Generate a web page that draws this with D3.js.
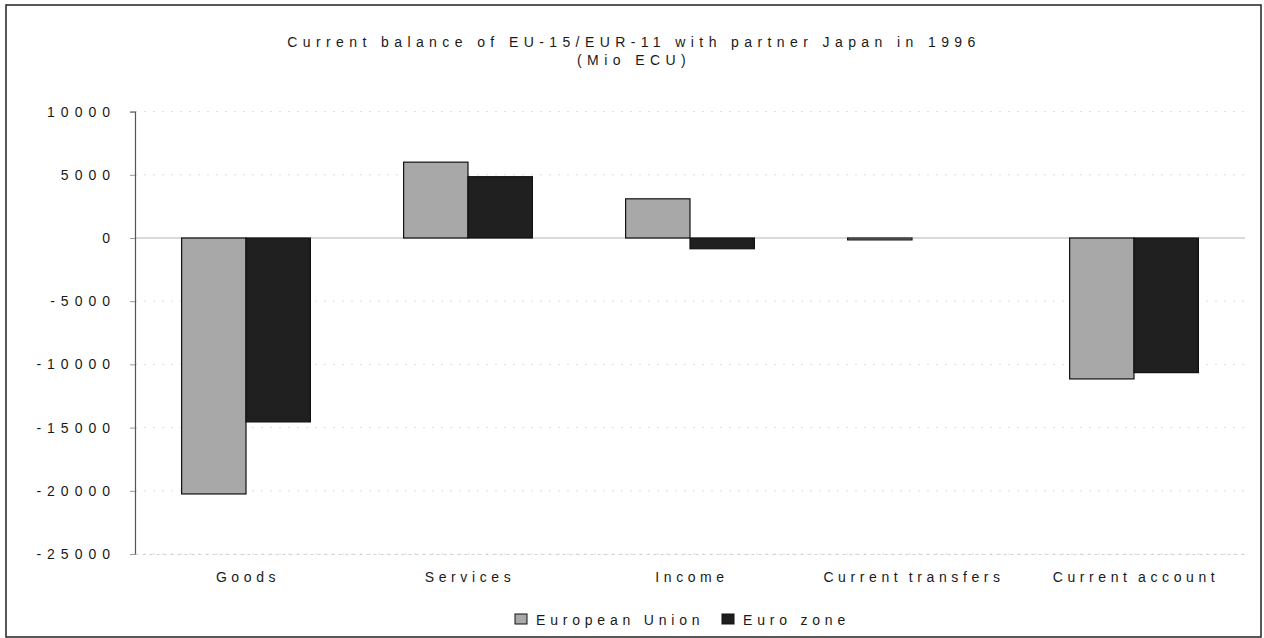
<!DOCTYPE html>
<html>
<head>
<meta charset="utf-8">
<script src="https://cdn.jsdelivr.net/npm/d3@7/dist/d3.min.js"></script>
<style>
  body { margin: 0; background: #ffffff; }
  svg { display: block; font-family: "Liberation Sans", Arial, sans-serif; }
</style>
</head>
<body>
<svg id="chart" width="1264" height="638"></svg>
<script>
// Current balance with Japan, 1996 (Mio ECU)
const categories = ["Goods", "Services", "Income", "Current transfers", "Current account"];
const seriesNames = ["European Union", "Euro zone"];
const euValues = [-20250, 6000, 3100, -150, -11150];
const euroValues = [-14550, 4850, -850, 0, -10650];
const yTicks = [10000, 5000, 0, -5000, -10000, -15000, -20000, -25000];
const titleLines = ["Current balance of EU-15/EUR-11 with partner Japan in 1996", "(Mio ECU)"];

const svg = d3.select("#chart");
const W = 1264, H = 638;
const plot = { left: 135, right: 1245, top: 111.6, bottom: 554 };

// fill patterns: fine dithered greys
const defs = svg.append("defs");
function dither(id, a, b) {
  const p = defs.append("pattern").attr("id", id)
    .attr("patternUnits", "userSpaceOnUse").attr("width", 2).attr("height", 2);
  p.append("rect").attr("width", 2).attr("height", 2).attr("fill", a);
  p.append("rect").attr("width", 1).attr("height", 1).attr("fill", b);
  p.append("rect").attr("x", 1).attr("y", 1).attr("width", 1).attr("height", 1).attr("fill", b);
}
dither("fillEU", "#b0b0b0", "#a0a0a0");
dither("fillEZ", "#191919", "#262626");
const fills = { "European Union": "url(#fillEU)", "Euro zone": "url(#fillEZ)" };
const swatch = { "European Union": "#a9a9a9", "Euro zone": "#1e1e1e" };

// outer frame
svg.append("rect").attr("x", 6).attr("y", 5).attr("width", W - 9).attr("height", H - 6)
  .attr("fill", "#ffffff").attr("stroke", "#222").attr("stroke-width", 1.5);

// title
const title = svg.append("g").attr("fill", "#1a1a1a").attr("font-size", 14)
  .attr("text-anchor", "middle").attr("letter-spacing", 5.4);
titleLines.forEach((t, i) => {
  title.append("text").attr("x", 634).attr("y", 47 + i * 18).text(t);
});

// scales
const y = d3.scaleLinear().domain([-25000, 10000]).range([plot.bottom, plot.top]);
const x = d3.scaleBand().domain(categories).range([plot.left, plot.right])
  .paddingInner(0.42).paddingOuter(0.21);
const xs = d3.scaleBand().domain(seriesNames).range([0, x.bandwidth()]);

// gridlines
svg.append("g").selectAll("line").data(yTicks.filter(d => d !== 0)).join("line")
  .attr("x1", plot.left).attr("x2", plot.right)
  .attr("y1", d => y(d)).attr("y2", d => y(d))
  .attr("stroke", "#dcdcdc").attr("stroke-width", 1).attr("stroke-dasharray", "2,7");

// zero line
svg.append("line").attr("x1", plot.left).attr("x2", plot.right)
  .attr("y1", y(0)).attr("y2", y(0)).attr("stroke", "#b4b4b4").attr("stroke-width", 1);

// bars
const rows = categories.map((c, i) => ({ cat: c, vals: [
  { s: seriesNames[0], v: euValues[i] },
  { s: seriesNames[1], v: euroValues[i] }
] }));
const groups = svg.append("g").selectAll("g").data(rows).join("g")
  .attr("transform", d => `translate(${x(d.cat)},0)`);
groups.selectAll("rect").data(d => d.vals.filter(e => e.v !== 0)).join("rect")
  .attr("x", d => xs(d.s))
  .attr("width", xs.bandwidth())
  .attr("y", d => Math.min(y(d.v), y(0)))
  .attr("height", d => Math.abs(y(d.v) - y(0)))
  .attr("fill", d => fills[d.s])
  .attr("stroke", "#111").attr("stroke-width", 1.2);

// y axis (plain hyphen for negatives)
const yAxis = d3.axisLeft(y).tickValues(yTicks).tickSize(5).tickPadding(20)
  .tickFormat(d => String(d));
const ya = svg.append("g").attr("transform", `translate(${plot.left},0)`).call(yAxis);
ya.select(".domain").attr("stroke", "#555").attr("stroke-width", 1.2);
ya.selectAll(".tick line").attr("stroke", "#999");
ya.selectAll(".tick text").attr("fill", "#1a1a1a").attr("font-size", 14)
  .attr("font-family", "'Liberation Sans', Arial, sans-serif")
  .attr("letter-spacing", 6).attr("dx", 6);

// category labels
const xAxis = d3.axisBottom(x).tickSize(0).tickPadding(18);
const xa = svg.append("g").attr("transform", `translate(0,${plot.bottom})`).call(xAxis);
xa.select(".domain").attr("stroke", "#d0d0d0").attr("stroke-dasharray", "3,4");
xa.selectAll(".tick text").attr("fill", "#1a1a1a").attr("font-size", 14)
  .attr("font-family", "'Liberation Sans', Arial, sans-serif")
  .attr("letter-spacing", 4.6).attr("word-spacing", -2).attr("dx", 2);

// legend
const legend = svg.append("g").attr("font-size", 14).attr("fill", "#1a1a1a").attr("letter-spacing", 4.8);
const legendX = [515, 722];
seriesNames.forEach((s, i) => {
  const g = legend.append("g").attr("transform", `translate(${legendX[i]},614)`);
  g.append("rect").attr("width", 12).attr("height", 10)
    .attr("fill", swatch[s]).attr("stroke", "#111").attr("stroke-width", 1);
  g.append("text").attr("x", 21).attr("y", 11).text(s);
});
</script>
</body>
</html>
